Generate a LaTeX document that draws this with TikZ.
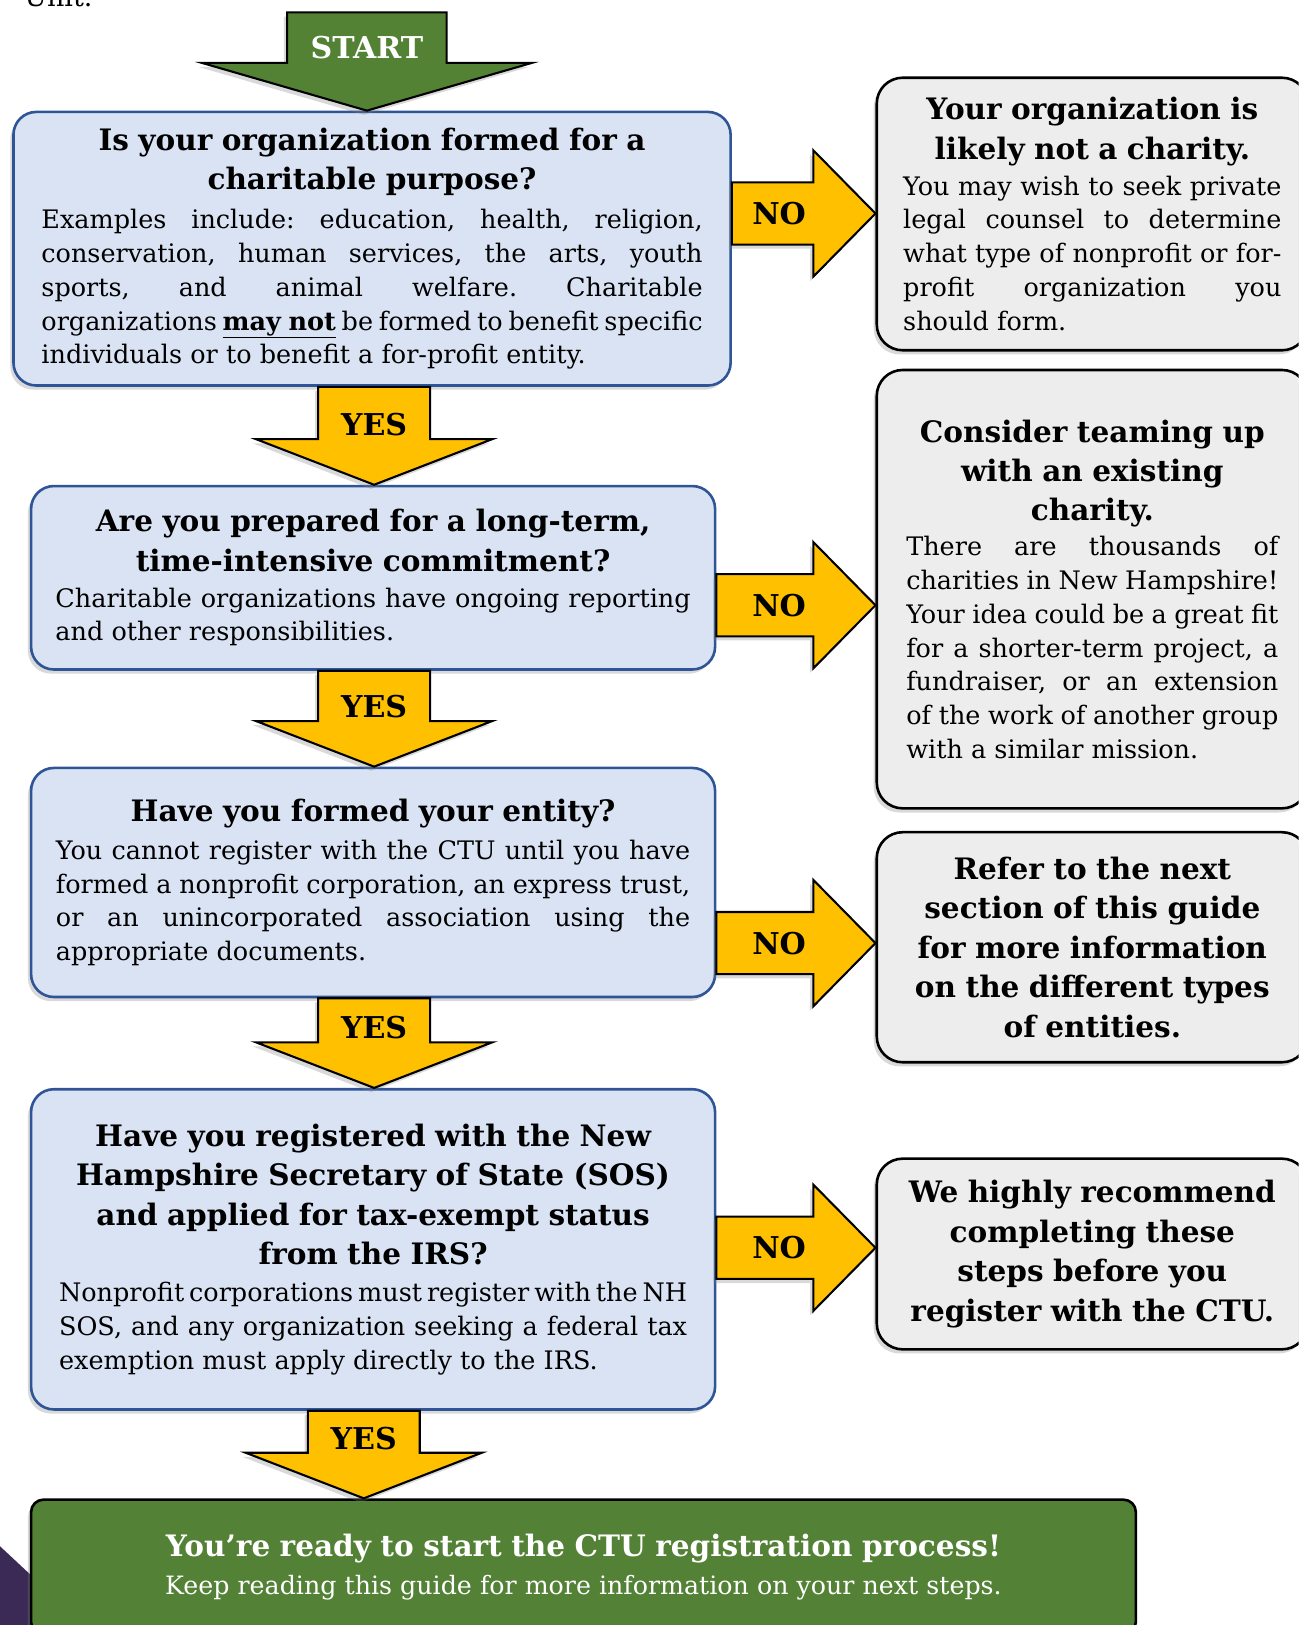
\documentclass[tikz,border=0pt]{standalone}
\usepackage{fontspec}
\setmainfont{DejaVu Serif}
\usetikzlibrary{calc,shadows}

\definecolor{questionblue}{HTML}{DAE3F3}
\definecolor{borderblue}{HTML}{2F5597}
\definecolor{hintgray}{HTML}{EDEDED}
\definecolor{answeryellow}{HTML}{FFC000}
\definecolor{startgreen}{HTML}{548235}
\definecolor{readygreen}{HTML}{538135}
\definecolor{cornerpurple}{HTML}{3A2A55}

\newcommand{\wordspace}{\frenchspacing\spaceskip=.32em\relax}
\newcommand{\titlefont}{\fontsize{28.5}{38}\selectfont\bfseries\wordspace}
\newcommand{\bodyfont}{\fontsize{24.6}{32.6}\selectfont\mdseries\wordspace}
\newcommand{\jline}[1]{\makebox[\hsize][s]{\spaceskip=.15em plus 1fil\relax #1}}
\newcommand{\lastline}[1]{\makebox[\hsize][l]{#1}}

\tikzset{
  shade/.style={drop shadow={shadow xshift=-3pt, shadow yshift=-4pt, opacity=0.3}},
  question/.style={draw=borderblue, fill=questionblue, line width=2.5pt,
    rounded corners=22pt, inner sep=0pt, align=center, shade},
  hint/.style={draw=black, fill=hintgray, line width=2.5pt,
    rounded corners=25pt, inner sep=0pt, align=center, shade,
    minimum width=416pt},
  blockarrow/.style={draw=black, fill=answeryellow, line width=2pt, shade},
  answerlabel/.style={font=\fontsize{29}{30}\selectfont\bfseries}
}

% Pfeile
\newcommand{\noarrow}[3]{%
  \draw[blockarrow] let \p1=(#2.east), \p2=(#3.west), \p3=(0,#1) in
    (\x1,\y3+30) -- (\x2-60,\y3+30) -- (\x2-60,\y3+61) -- (\x2,\y3)
    -- (\x2-60,\y3-61) -- (\x2-60,\y3-30) -- (\x1,\y3-30) -- cycle;
  \path let \p2=(#3.west), \p3=(0,#1) in
    node[answerlabel] at (\x2-93,\y3) {NO};
}
\newcommand{\yesarrow}[3]{%
  \draw[blockarrow] let \p1=(#2.south), \p2=(#3.north), \p3=(#1,0) in
    (\x3-54,\y1) -- (\x3+54,\y1) -- (\x3+54,\y2+44) -- (\x3+114,\y2+44)
    -- (\x3,\y2) -- (\x3-114,\y2+44) -- (\x3-54,\y2+44) -- cycle;
  \path let \p2=(#3.north), \p3=(#1,0) in
    node[answerlabel] at (\x3,\y2+58) {YES};
}

\begin{document}
\begin{tikzpicture}[x=1pt, y=-1pt]
  \useasboundingbox (0,0) rectangle (1253,1568);
  \clip (0,0) rectangle (1253,1568);

  \node[anchor=base west, font=\fontsize{26}{28}\selectfont] (unit) at (20,6) {Unit.};
  \fill[cornerpurple] (0,1492) -- (30,1520) -- (30,1568) -- (0,1568) -- cycle;

  % Fragen
  \node[question, minimum width=692pt, minimum height=264pt, text width=638pt] (q1) at (359,240) {%
    \titlefont Is your organization formed for a\\ charitable purpose?\par
    \vspace{5pt}\bodyfont
    \jline{Examples include: education, health, religion,}\\
    \jline{conservation, human services, the arts, youth}\\
    \jline{sports, and animal welfare. Charitable}\\
    \jline{organizations \underline{\textbf{may\hspace{.3em}not}} be formed to benefit specific}\\
    \lastline{individuals or to benefit a for-profit entity.}\par};
  \node[question, minimum width=660pt, minimum height=177pt, text width=613pt] (q2) at (360,557.5) {%
    \titlefont Are you prepared for a long-term,\\ time-intensive commitment?\par
    \vspace{2pt}\bodyfont
    \jline{Charitable organizations have ongoing reporting}\\
    \lastline{and other responsibilities.}\par};
  \node[question, minimum width=660pt, minimum height=221pt, text width=612pt] (q3) at (360,851.5) {%
    \titlefont Have you formed your entity?\par
    \vspace{4pt}\bodyfont
    \jline{You cannot register with the CTU until you have}\\
    \jline{formed a nonprofit corporation, an express trust,}\\
    \jline{or an unincorporated association using the}\\
    \lastline{appropriate documents.}\par};
  \node[question, minimum width=660pt, minimum height=309pt, text width=606pt] (q4) at (360,1205.5) {%
    \titlefont Have you registered with the New\\ Hampshire Secretary of State (SOS)\\
    and applied for tax-exempt status\\ from the IRS?\par
    \vspace{3pt}\bodyfont
    \jline{Nonprofit corporations must register with the NH}\\
    \jline{SOS, and any organization seeking a federal tax}\\
    \lastline{exemption must apply directly to the IRS.}\par};

  % Hinweise
  \node[hint, minimum height=263pt, text width=365pt] (h1) at (1054,206.5) {%
    \titlefont Your organization is\\ likely not a charity.\par
    \vspace{2pt}\bodyfont
    \jline{You may wish to seek private}\\
    \jline{legal counsel to determine}\\
    \jline{what type of nonprofit or for-}\\
    \jline{profit organization you}\\
    \lastline{should form.}\par};
  \node[hint, minimum height=423pt, text width=359pt] (h2) at (1054,568.5) {%
    \titlefont Consider teaming up\\ with an existing\\ charity.\par
    \vspace{1pt}\bodyfont
    \jline{There are thousands of}\\
    \jline{charities in New Hampshire!}\\
    \jline{Your idea could be a great fit}\\
    \jline{for a shorter-term project, a}\\
    \jline{fundraiser, or an extension}\\
    \jline{of the work of another group}\\
    \lastline{with a similar mission.}\par};
  \node[hint, minimum height=222pt, text width=400pt] (h3) at (1054,914) {%
    \titlefont Refer to the next\\ section of this guide\\ for more information\\
    on the different types\\ of entities.\par};
  \node[hint, minimum height=184pt, text width=400pt] (h4) at (1054,1210) {%
    \titlefont We highly recommend\\ completing these\\ steps before you\\
    register with the CTU.\par};

  % Ziel
  \node[draw=black, fill=readygreen, line width=2.5pt, rounded corners=12pt, shade,
    minimum width=1066pt, minimum height=130pt, text width=1000pt, align=center,
    text=white] (ready) at (563,1512) {%
    \fontsize{28.5}{37}\selectfont\bfseries\wordspace You’re ready to start the CTU registration process!\par
    \fontsize{24.4}{37}\selectfont\mdseries\wordspace Keep reading this guide for more information on your next steps.\par};

  % Start
  \coordinate (start) at (354,12);
  \draw[blockarrow, fill=startgreen] let \p1=(start), \p2=(q1.north) in
    (\x1-77,\y1) -- (\x1+77,\y1) -- (\x1+77,\y2+46) -- (\x1+159,\y2+46)
    -- (\x1,\y2) -- (\x1-159,\y2+46) -- (\x1-77,\y2+46) -- cycle;
  \path let \p1=(start), \p2=(q1.north) in
    node[answerlabel, text=white] (startlabel) at (\x1,\y2+61) {START};

  % Antworten
  \noarrow{206}{q1}{h1}
  \noarrow{584}{q2}{h2}
  \noarrow{910}{q3}{h3}
  \noarrow{1204}{q4}{h4}
  \yesarrow{361}{q1}{q2}
  \yesarrow{361}{q2}{q3}
  \yesarrow{361}{q3}{q4}
  \yesarrow{351}{q4}{ready}
\end{tikzpicture}
\end{document}
